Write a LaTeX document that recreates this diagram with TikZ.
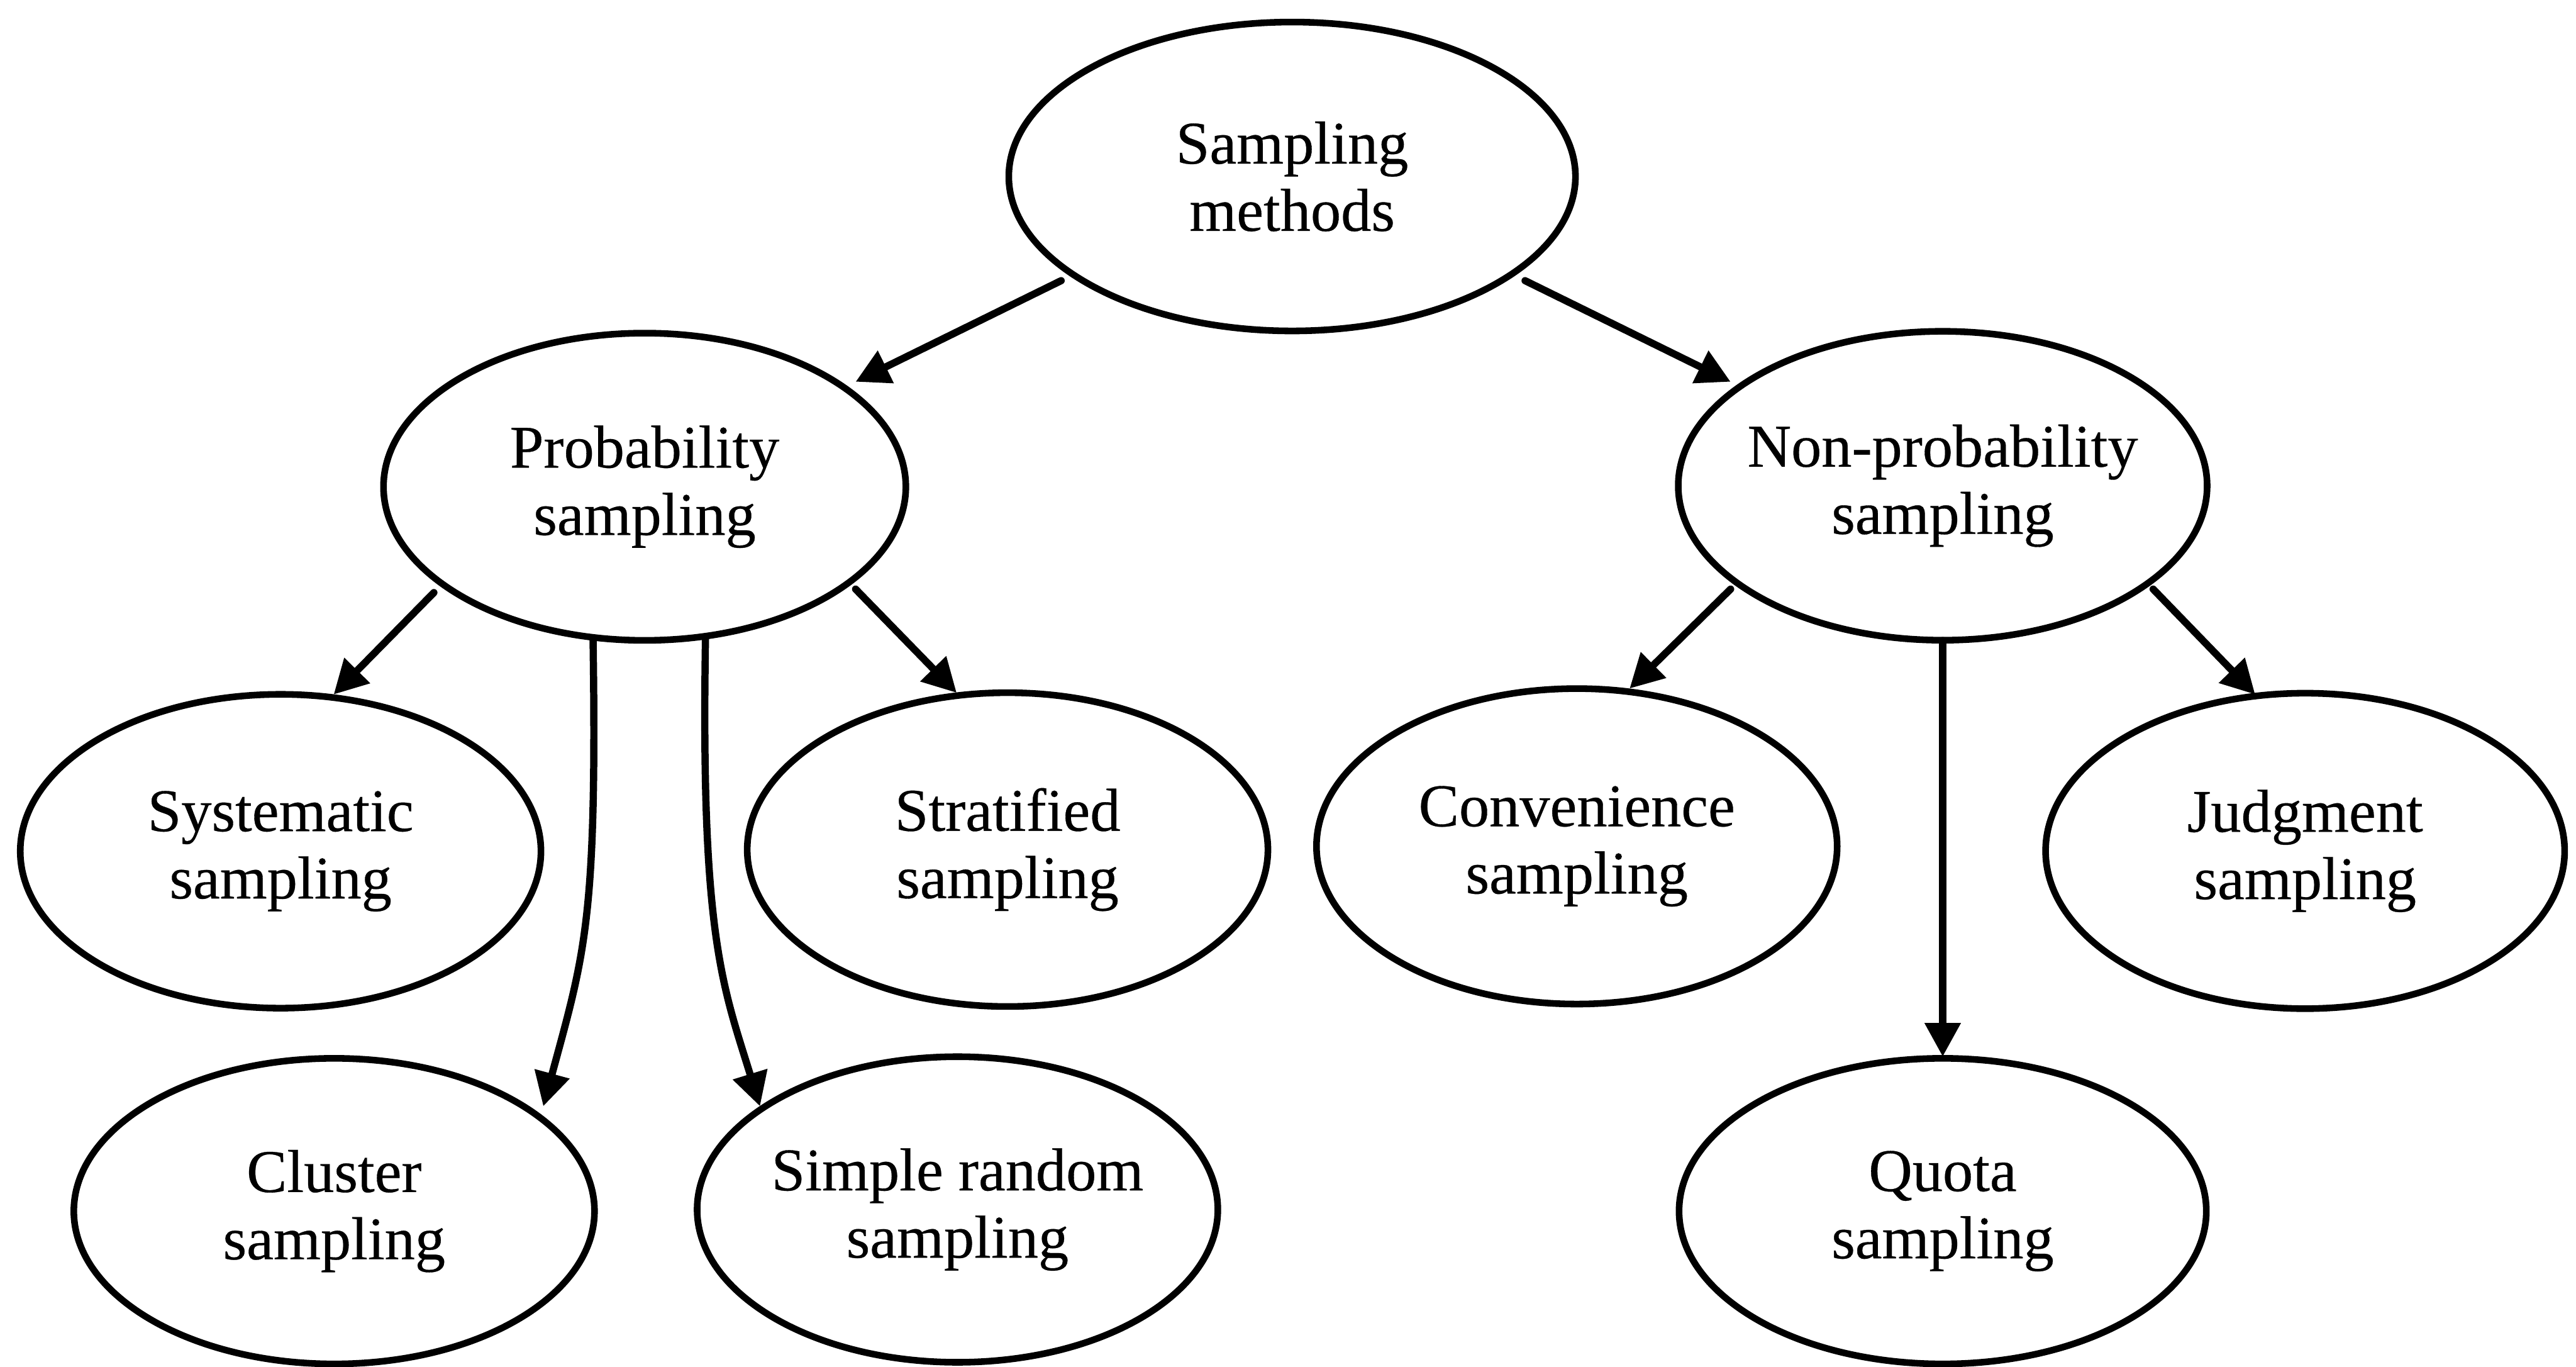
\documentclass[tikz,border=0pt]{standalone}
\usepackage{fontspec}
\setmainfont{Liberation Serif}
\newfontfamily\ovaltext[FakeBold=0.35]{Liberation Serif}
\usetikzlibrary{shapes.geometric,arrows.meta}
\begin{document}
\begin{tikzpicture}[x=0.02cm,y=-0.02cm,
  oval/.style={ellipse,draw,line width=2.3pt,inner sep=0pt,outer sep=0pt,
               minimum width=6.36cm,minimum height=3.76cm},
  txt/.style={font=\ovaltext\fontsize{21}{23.3}\selectfont,align=center,inner sep=0pt},
  arr/.style={line width=2.5pt,line cap=round,
              -{Triangle[length=0.41cm,width=0.42cm]}}]
\useasboundingbox (0,0) rectangle (1568,831.6);

% root
\node[oval,minimum width=6.9cm,label={[txt]center:{Sampling\\methods}}] (top) at (786.5,107.4) {};

% second level
\node[oval,minimum height=3.74cm,label={[txt]center:{Probability\\sampling}}] (prob) at (392.4,296.2) {};
\node[oval,minimum width=6.44cm,label={[txt]center:{Non-probability\\sampling}}] (nonprob) at (1182.5,295.6) {};

% third level
\node[oval,minimum width=6.34cm,minimum height=3.82cm,label={[txt]center:{Systematic\\sampling}}] (syst) at (170.8,518) {};
\node[oval,minimum width=6.34cm,minimum height=3.82cm,label={[txt]center:{Stratified\\sampling}}] (strat) at (613.3,517) {};
\node[oval,minimum width=6.34cm,minimum height=3.84cm,label={[txt]center:{Convenience\\sampling}}] (conv) at (959.8,515) {};
\node[oval,minimum width=6.32cm,minimum height=3.84cm,label={[txt]center:{Judgment\\sampling}}] (judg) at (1403.1,517.8) {};

% fourth level
\node[oval,minimum width=6.34cm,minimum height=3.72cm,label={[txt]center:{Cluster\\sampling}}] (clust) at (203.4,737) {};
\node[oval,minimum width=6.34cm,minimum height=3.72cm,label={[txt]center:{Simple random\\sampling}}] (simple) at (582.8,736) {};
\node[oval,minimum width=6.42cm,minimum height=3.72cm,label={[txt]center:{Quota\\sampling}}] (quota) at (1182.5,737) {};

% connectors
\draw[arr] ([shift={(-140.6,63.4)}]top.center) -- ([shift={(128.4,-63.9)}]prob.center);
\draw[arr] ([shift={(141.8,63.4)}]top.center) -- ([shift={(-129.1,-63.3)}]nonprob.center);

\draw[arr] ([shift={(-128.3,64.4)}]prob.center) -- ([shift={(32.3,-95.4)}]syst.center);
\draw[arr] ([shift={(128.4,62.3)}]prob.center) -- ([shift={(-31,-95.4)}]strat.center);
\draw[arr] ([shift={(-31.4,93.1)}]prob.center)
  .. controls +(2.5,170.7) and +(25.3,-93.2) .. ([shift={(127.3,-63.8)}]clust.center);
\draw[arr] ([shift={(37,93.1)}]prob.center)
  .. controls +(-2.9,180.7) and +(-22.6,-73.2) .. ([shift={(-120.2,-62.8)}]simple.center);

\draw[arr] ([shift={(-129.1,62.9)}]nonprob.center) -- ([shift={(32.1,-96)}]conv.center);
\draw[arr] ([shift={(0,94.2)}]nonprob.center) -- ([shift={(0,-94)}]quota.center);
\draw[arr] ([shift={(128.1,62.9)}]nonprob.center) -- ([shift={(-30.4,-95.2)}]judg.center);
\end{tikzpicture}
\end{document}
